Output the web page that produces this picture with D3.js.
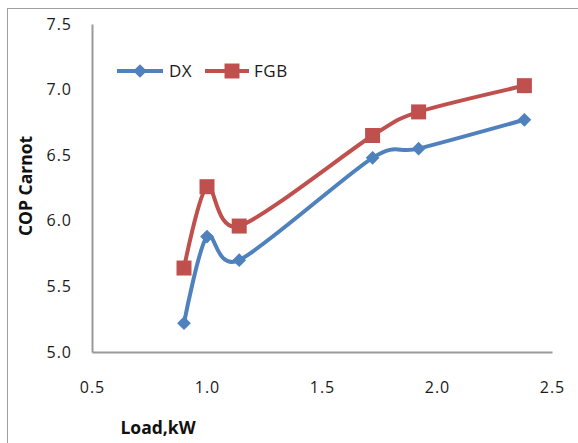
<!DOCTYPE html>
<html><head><meta charset="utf-8">
<script src="https://cdn.jsdelivr.net/npm/d3@7"></script>
<style>body{margin:0;background:#fff}svg{display:block}</style>
</head><body>
<svg id="c" width="578" height="443"></svg>
<script>
const loads = [0.9, 1.0, 1.14, 1.72, 1.92, 2.38];
const dxValues = [5.22, 5.88, 5.70, 6.48, 6.55, 6.77];
const fgbValues = [5.64, 6.26, 5.96, 6.65, 6.83, 7.03];
const seriesNames = ["DX", "FGB"];
const xTicks = [0.5, 1.0, 1.5, 2.0, 2.5];
const yTicks = [5.0, 5.5, 6.0, 6.5, 7.0, 7.5];
const colors = ["#4F81BD", "#C0504D"];

const svg = d3.select("#c");
const font = "'Open Sans', 'Liberation Sans', sans-serif";
svg.append("rect").attr("x", 7.5).attr("y", 8.5).attr("width", 600).attr("height", 500)
  .attr("fill", "#fff").attr("stroke", "#a0a0a0").attr("stroke-width", 1);

const x = d3.scaleLinear().domain([0.5, 2.5]).range([92, 552]);
const y = d3.scaleLinear().domain([5.0, 7.5]).range([352, 24]);

// axes
const xAxis = svg.append("g").attr("transform", "translate(0,352)")
  .call(d3.axisBottom(x).tickValues(xTicks).tickFormat(d3.format(".1f")).tickSize(0).tickPadding(30));
const yAxis = svg.append("g").attr("transform", "translate(92,0)")
  .call(d3.axisLeft(y).tickValues(yTicks).tickFormat(d3.format(".1f")).tickSize(0).tickPadding(20));
[xAxis, yAxis].forEach(a => {
  a.select(".domain").attr("stroke", "#999").attr("stroke-width", 2);
  a.selectAll("text").attr("font-family", font).attr("font-size", 16)
    .attr("letter-spacing", "1px").attr("fill", "#1a1a1a");
});

// titles
svg.append("text").attr("x", 158).attr("y", 434).attr("text-anchor", "middle")
  .attr("font-family", font).attr("font-weight", "bold").attr("font-size", 17.5)
  .attr("fill", "#111").text("Load,kW");
svg.append("text").attr("transform", "translate(32,186) rotate(-90)").attr("text-anchor", "middle")
  .attr("font-family", font).attr("font-weight", "bold").attr("font-size", 17.5)
  .attr("fill", "#111").text("COP Carnot");

const line = d3.line().x(d => x(d[0])).y(d => y(d[1])).curve(d3.curveCardinal.tension(0.15));
const sets = [dxValues, fgbValues];
const diamond = d3.symbol().type(d3.symbolDiamond2).size(120);
const square = d3.symbol().type(d3.symbolSquare).size(225);

sets.forEach((vals, i) => {
  const pts = loads.map((l, j) => [l, vals[j]]);
  svg.append("path").datum(pts).attr("d", line).attr("fill", "none")
    .attr("stroke", colors[i]).attr("stroke-width", 4).attr("stroke-linejoin", "round");
  svg.selectAll(null).data(pts).enter().append("path")
    .attr("transform", d => `translate(${x(d[0])},${y(d[1])})`)
    .attr("d", i === 0 ? diamond : square).attr("fill", colors[i]);
});

// legend
const leg = [{x0: 117, x1: 163, tx: 169}, {x0: 205, x1: 249, tx: 254}];
leg.forEach((L, i) => {
  const g = svg.append("g");
  g.append("line").attr("x1", L.x0).attr("x2", L.x1).attr("y1", 71).attr("y2", 71)
    .attr("stroke", colors[i]).attr("stroke-width", 4);
  g.append("path").attr("transform", `translate(${(L.x0 + L.x1) / 2 + (i===0?0:5)},71)`)
    .attr("d", i === 0 ? diamond : square).attr("fill", colors[i]);
  g.append("text").attr("x", L.tx).attr("y", 77).attr("font-family", font).attr("font-size", 17)
    .attr("letter-spacing", "0.5px").attr("fill", "#1a1a1a").text(seriesNames[i]);
});
</script>
</body></html>
